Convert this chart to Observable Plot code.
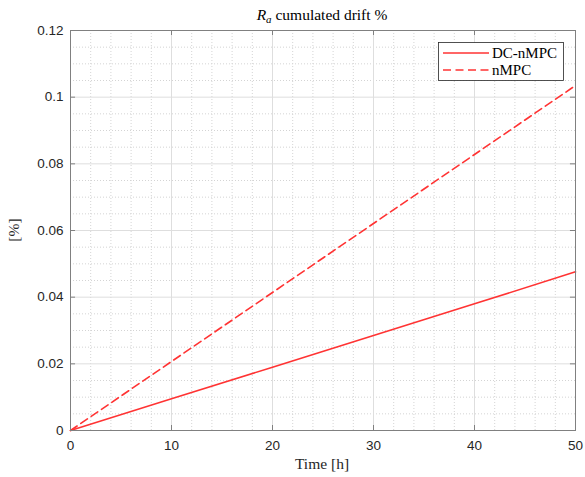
<!DOCTYPE html>
<html><head><meta charset="utf-8">
<script src="https://cdn.jsdelivr.net/npm/d3@7"></script>
<script src="https://cdn.jsdelivr.net/npm/@observablehq/plot@0.6"></script>
<style>body{margin:0;background:#fff}</style>
</head><body><div id="chart"></div>
<script>
const time = [0, 10, 20, 30, 40, 50];
const dcnmpc = [0, 0.0095, 0.019, 0.0285, 0.038, 0.0476];
const nmpc = [0, 0.0207, 0.0414, 0.0621, 0.0828, 0.1035];
const seriesNames = ["DC-nMPC", "nMPC"];
const xTicks = [0, 10, 20, 30, 40, 50];
const yTicks = [0, 0.02, 0.04, 0.06, 0.08, 0.1, 0.12];
const yTickLabels = ["0", "0.02", "0.04", "0.06", "0.08", "0.1", "0.12"];
const xMinor = d3.range(0, 51, 2).filter(v => v % 10 !== 0);
const yMinor = d3.range(0, 25).map(i => i * 0.005).filter((v, i) => i % 4 !== 0);

const red = "#ff3333";
const axisColor = "#808080";
const sans = "'Liberation Sans', Arial, sans-serif";
const serif = "'Liberation Serif', 'Times New Roman', serif";

const rowsA = time.map((t, i) => ({t, v: dcnmpc[i]}));
const rowsB = time.map((t, i) => ({t, v: nmpc[i]}));

const W = 585, H = 477;
const plot = Plot.plot({
  width: W, height: H,
  marginLeft: 70, marginRight: 10, marginTop: 30, marginBottom: 47,
  style: {fontFamily: sans, fontSize: "13.5px", color: "#262626", background: "#fff", overflow: "visible"},
  x: {domain: [0, 50]},
  y: {domain: [0, 0.12]},
  marks: [
    Plot.ruleX(xMinor, {x: d => d, stroke: "#d4d4d4", strokeDasharray: "1,2", strokeWidth: 1}),
    Plot.ruleY(yMinor, {y: d => d, stroke: "#d4d4d4", strokeDasharray: "1,2", strokeWidth: 1}),
    Plot.ruleX(xTicks, {x: d => d, stroke: "#dedede", strokeWidth: 1}),
    Plot.ruleY(yTicks, {y: d => d, stroke: "#dedede", strokeWidth: 1}),
    Plot.line(rowsA, {x: "t", y: "v", stroke: red, strokeWidth: 1.6}),
    Plot.line(rowsB, {x: "t", y: "v", stroke: red, strokeWidth: 1.6, strokeDasharray: "8,4.5"}),
    Plot.ruleX(xTicks, {x: d => d, y1: 0, y2: 0.0015, stroke: axisColor}),
    Plot.ruleX(xTicks, {x: d => d, y1: 0.12, y2: 0.1185, stroke: axisColor}),
    Plot.ruleY(yTicks, {y: d => d, x1: 0, x2: 0.5, stroke: axisColor}),
    Plot.ruleY(yTicks, {y: d => d, x1: 50, x2: 49.5, stroke: axisColor}),
    Plot.frame({stroke: axisColor, strokeWidth: 1}),
    Plot.axisX(xTicks, {tickSize: 0, tickPadding: 10, label: null, fontSize: 13.5, fill: "#262626"}),
    Plot.axisY(yTicks, {tickSize: 0, tickPadding: 7, label: null, tickFormat: (d, i) => yTickLabels[i], fontSize: 13.5, fill: "#262626"})
  ]
});
document.getElementById("chart").appendChild(plot);

const svg = d3.select(plot);
function txt(sel, size, anchor, fill) {
  return sel.style("font-family", serif).style("font-size", size + "px")
    .style("text-anchor", anchor).style("fill", fill);
}
const title = txt(svg.append("text").attr("x", 322).attr("y", 20), 15.5, "middle", "#000");
title.append("tspan").style("font-style", "italic").text("R");
title.append("tspan").style("font-style", "italic").style("font-size", "11px").attr("dy", 3).text("a");
title.append("tspan").attr("dy", -3).text(" cumulated drift %");
txt(svg.append("text").attr("x", 322).attr("y", 469), 15.5, "middle", "#262626").text("Time [h]");
txt(svg.append("text").attr("transform", "translate(19,230) rotate(-90)"), 15.5, "middle", "#262626").text("[%]");

const lg = svg.append("g");
lg.append("rect").attr("x", 438.5).attr("y", 42.5).attr("width", 125).attr("height", 38)
  .style("fill", "#fff").style("stroke", "#262626").style("stroke-width", 0.8);
[0, 1].forEach(i => {
  const y = 53 + i * 17;
  lg.append("line").attr("x1", 443).attr("x2", 489).attr("y1", y).attr("y2", y)
    .style("stroke", red).style("stroke-width", 1.6).style("stroke-dasharray", i ? "8,4.5" : "none");
  txt(lg.append("text").attr("x", 492).attr("y", y + 5), 15, "start", "#000").text(seriesNames[i]);
});
</script></body></html>
